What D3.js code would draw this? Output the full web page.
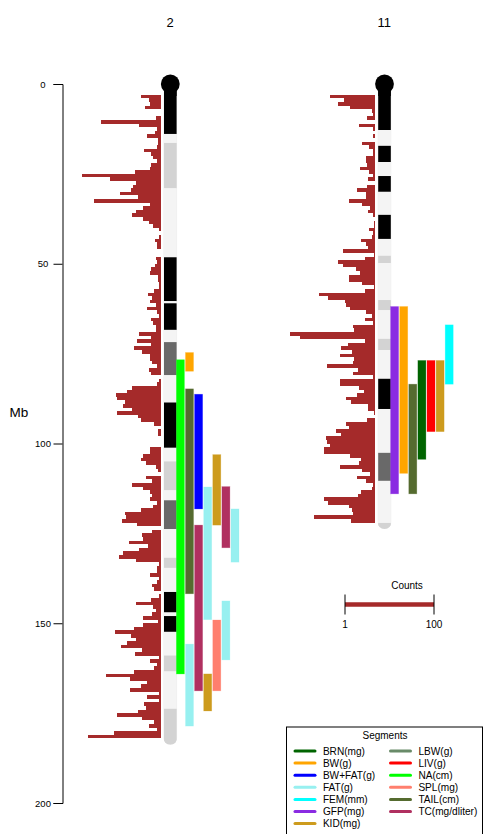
<!DOCTYPE html>
<html><head><meta charset="utf-8">
<script src="https://cdn.jsdelivr.net/npm/d3@7/dist/d3.min.js"></script>
<style>html,body{margin:0;padding:0;background:#fff}svg{display:block}text{font-family:"Liberation Sans",Arial,sans-serif;fill:#000}</style>
</head><body><svg id="c" width="483" height="834"></svg>
<script>
// Counts per 1 Mb bin, index = Mb position
const chr2Counts = [0,0,0,22,13,12,18,0,0,6,67,25,4,7,16,3,3,4,19,11,9,4,11,12,29,89,57,28,31,34,46,26,75,12,20,28,33,20,13,9,2,0,2,7,4,4,0,0,6,4,7,11,12,3,3,2,2,8,15,10,12,6,16,4,2,11,9,6,6,25,11,27,11,30,21,12,12,10,4,13,11,0,2,4,33,38,51,49,40,43,33,49,26,22,8,0,3,3,0,0,0,12,12,20,22,17,6,3,0,17,10,33,20,12,10,12,4,9,22,40,39,44,27,0,10,21,20,36,15,25,43,47,28,2,4,4,12,2,4,10,8,0,2,11,28,9,6,10,20,3,20,30,52,34,28,38,45,21,29,2,12,4,8,30,62,35,16,22,35,2,16,2,19,17,26,49,21,8,13,4,53,82];
const chr11Counts = [0,0,0,51,35,42,28,4,2,9,0,18,3,0,2,0,15,7,2,2,10,10,9,17,7,2,8,0,9,21,10,10,29,15,6,8,2,0,1,1,7,2,4,16,10,8,36,1,12,42,36,22,17,30,29,15,1,11,63,53,34,33,28,10,4,11,3,25,24,96,85,12,31,38,26,39,24,25,54,19,25,2,39,40,18,13,20,33,27,8,8,1,0,9,33,30,44,38,55,54,51,57,58,28,16,18,39,15,6,20,10,3,4,16,19,58,53,29,26,25,69,27];

// Cytobands: [end Mb, stain]
const chr2Bands = [[13.9,"k"],[16.4,"l"],[29,"m"],[48.2,"l"],[60.4,"k"],[61,"l"],[68.4,"k"],[71.8,"l"],[81,"d"],[88.6,"l"],[101.2,"k"],[105,"l"],[113,"m"],[115.8,"l"],[123.8,"d"],[131.8,"l"],[134.6,"m"],[141.3,"l"],[147,"k"],[148,"l"],[152.4,"k"],[159,"l"],[163.4,"m"],[173.8,"l"],[183.8,"m"]];
const chr11Bands = [[12.8,"k"],[17.2,"l"],[21.7,"k"],[25.6,"l"],[30,"k"],[36.4,"l"],[43.1,"k"],[47.8,"l"],[49.8,"m"],[60.1,"l"],[62.9,"m"],[70.9,"l"],[74,"m"],[82,"l"],[90.4,"k"],[102.6,"l"],[110.4,"d"],[122.1,"l"],[123.8,"m"]];
const bandStains = {k:"#000000",l:"#f4f4f4",m:"#d3d3d3",d:"#696969"};

// QTL segments: [trait, lane, start Mb, end Mb]
const chr2Segments = [["NA(cm)",0,76.7,164.1],["BW(g)",1,74.7,79.9],["TAIL(cm)",1,84.8,141.8],["FAT(g)",1,155.8,178.6],["BW+FAT(g)",2,86.3,118.2],["TC(mg/dliter)",2,122.7,168.8],["FAT(g)",3,112.1,149],["KID(mg)",3,164.1,174.4],["KID(mg)",4,103.1,122.7],["SPL(mg)",4,149.1,168.8],["TC(mg/dliter)",5,112,129],["FAT(g)",5,143.8,160.2],["FAT(g)",6,118.2,133]];
const chr11Segments = [["GFP(mg)",0,61.9,114],["BW(g)",1,61.9,108.3],["TAIL(cm)",2,83.5,114],["BRN(mg)",3,76.9,104.4],["LIV(g)",4,76.9,96.7],["KID(mg)",5,76.9,96.7],["FEM(mm)",6,67,83.5]];

const traitNames = ["BRN(mg)","BW(g)","BW+FAT(g)","FAT(g)","FEM(mm)","GFP(mg)","KID(mg)","LBW(g)","LIV(g)","NA(cm)","SPL(mg)","TAIL(cm)","TC(mg/dliter)"];
const traitColors = ["#006400","#ffa500","#0000ff","#97f0f0","#00ffff","#8a2be2","#cd9b1d","#698b69","#ff0000","#00ff00","#ff7f6e","#556b2f","#b03060"];
const yTicks = [0,50,100,150,200];
const countTicks = [1,100];

const svg = d3.select("#c");
const y = d3.scaleLinear().domain([0,200]).range([84,803]);
const xCount = d3.scaleLinear().domain([0,100]).range([0,89]);
const color = d3.scaleOrdinal().domain(traitNames).range(traitColors);
const brown = "#a52a2a";

// Axis
const axis = svg.append("g").attr("transform","translate(62.5,0)")
  .call(d3.axisLeft(y).tickValues(yTicks).tickSize(9).tickFormat(d3.format("d")));
axis.selectAll("path,line").attr("stroke","#000").attr("stroke-width",1);
axis.selectAll("text").attr("x",-19.5).attr("text-anchor","middle").attr("font-size",9.5).attr("font-family","Liberation Sans");
svg.append("text").attr("x",19).attr("y",416.5).attr("text-anchor","middle").attr("font-size",13.5).text("Mb");

function chromosome(name, baseX, counts, bands, segments, id){
  const g = svg.append("g");
  const ideoX = baseX + 3, ideoW = 12.6;
  const len = bands[bands.length-1][0];
  // histogram
  g.append("g").attr("shape-rendering","crispEdges").selectAll("rect").data(counts.map((c,i)=>({c,i})).filter(d=>d.c>0)).join("rect")
    .attr("x",d=>baseX-xCount(d.c)).attr("y",d=>y(d.i))
    .attr("width",d=>xCount(d.c)).attr("height",d=>y(d.i+1)-y(d.i)).attr("fill",brown);
  // ideogram
  const cp = svg.append("clipPath").attr("id",id);
  cp.append("rect").attr("x",ideoX-0.7).attr("y",y(0)).attr("width",ideoW+1.4).attr("height",y(len)-y(0)).attr("rx",7).attr("ry",7);
  let prev = 0;
  const rows = bands.map(b=>{const r={s:prev,e:b[0],t:b[1]};prev=b[0];return r;});
  const ig = g.append("g").attr("clip-path",`url(#${id})`);
  ig.append("rect").attr("x",ideoX-0.7).attr("y",y(0)).attr("width",ideoW+1.4).attr("height",y(len)-y(0)).attr("fill","#ededed");
  ig.selectAll("rect.b").data(rows).join("rect")
    .attr("x",ideoX).attr("width",ideoW)
    .attr("y",d=>y(d.s)).attr("height",d=>y(d.e)-y(d.s)).attr("fill",d=>bandStains[d.t]);
  // centromere cap
  g.append("rect").attr("x",ideoX).attr("y",y(0)).attr("width",ideoW).attr("height",12).attr("fill","#000");
  g.append("circle").attr("cx",ideoX+ideoW/2).attr("cy",y(0)).attr("r",9.4).attr("fill","#000");
  // segments
  const laneX = d3.scaleLinear().domain([0,1]).range([baseX+15.4,baseX+24.5]);
  g.selectAll("rect.s").data(segments).join("rect")
    .attr("x",d=>laneX(d[1])).attr("width",8)
    .attr("y",d=>y(d[2])).attr("height",d=>y(d[3])-y(d[2]))
    .attr("fill",d=>color(d[0]))
    .attr("stroke",d=>color(d[0])).attr("stroke-width",0.7).attr("stroke-opacity",0.35);
  svg.append("text").attr("x",ideoX+ideoW/2-0.3).attr("y",26.5).attr("text-anchor","middle").attr("font-size",13).text(name);
}
chromosome("2",161,chr2Counts,chr2Bands,chr2Segments,"clip2");
chromosome("11",375.2,chr11Counts,chr11Bands,chr11Segments,"clip11");

// Counts key
const keyX = d3.scaleLinear().domain(countTicks).range([345,434]);
const keyY = 604.5;
svg.append("line").attr("x1",keyX(1)).attr("x2",keyX(100)).attr("y1",keyY).attr("y2",keyY).attr("stroke",brown).attr("stroke-width",4.5);
svg.selectAll("line.kt").data(countTicks).join("line").attr("class","kt")
  .attr("x1",d=>keyX(d)).attr("x2",d=>keyX(d)).attr("y1",keyY-10).attr("y2",keyY+10).attr("stroke","#000").attr("stroke-width",1);
svg.selectAll("text.kl").data(countTicks).join("text").attr("class","kl")
  .attr("x",d=>keyX(d)).attr("y",627.5).attr("text-anchor","middle").attr("font-size",10).text(d=>d);
svg.append("text").attr("x",407).attr("y",589).attr("text-anchor","middle").attr("font-size",10).text("Counts");

// Segment legend
svg.append("rect").attr("x",286.5).attr("y",727).attr("width",196).attr("height",120).attr("fill","#fff").attr("stroke","#000").attr("stroke-width",1);
svg.append("text").attr("x",385).attr("y",739).attr("text-anchor","middle").attr("font-size",10).text("Segments");
const leg = svg.selectAll("g.l").data(traitNames).join("g").attr("class","l")
  .attr("transform",(d,i)=>{const col=i<7?0:1,row=i<7?i:i-7;return `translate(${col?390.5:295},${751+row*12.1})`;});
leg.append("line").attr("x1",0).attr("x2",20).attr("stroke",d=>color(d)).attr("stroke-width",3).attr("stroke-linecap","round");
leg.append("text").attr("x",27.9).attr("y",3.6).attr("font-size",10.1).text(d=>d);
</script></body></html>
